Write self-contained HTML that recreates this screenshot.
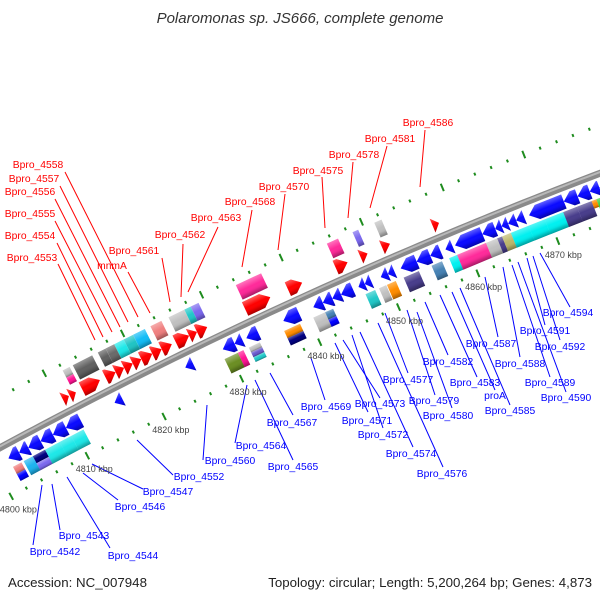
<!DOCTYPE html>
<html><head><meta charset="utf-8"><style>
html,body{margin:0;padding:0;background:#fff;}
svg{display:block;font-family:"Liberation Sans",sans-serif;}
</style></head><body>
<svg id="chart" width="600" height="600" viewBox="0 0 600 600" xmlns="http://www.w3.org/2000/svg">
<defs>
<linearGradient id="shade" x1="0" y1="0" x2="0" y2="1">
<stop offset="0" stop-color="#fff" stop-opacity="0.35"/>
<stop offset="0.45" stop-color="#fff" stop-opacity="0"/>
<stop offset="0.7" stop-color="#000" stop-opacity="0.05"/>
<stop offset="1" stop-color="#000" stop-opacity="0.35"/>
</linearGradient>
</defs>
<text x="300" y="23" text-anchor="middle" font-size="15" font-style="italic" fill="#333">Polaromonas sp. JS666, complete genome</text>
<text x="8" y="587" font-size="13.3" fill="#222">Accession: NC_007948</text>
<text x="592" y="587" text-anchor="end" font-size="13.3" fill="#222">Topology: circular; Length: 5,200,264 bp; Genes: 4,873</text>
<g id="lines"></g>
<g id="ticks"></g>
<g id="backbone"></g>
<g id="genes"></g>
<g id="labels"></g>
</svg>
<script>
// ---- data (kbp positions) ----
const tickKbp = [4800,4810,4820,4830,4840,4850,4860,4870];
const fwdInnerStart = [4810.5,4811.4,4813,4816,4817.3,4818.4,4819.5,4820.6,4822,4823.2,4825,4826.7,4827.7,4833.8,4839.2,4845.2,4848.3,4851,4857.3];
const fwdInnerEnd   = [4811.3,4812.2,4815.3,4817.3,4818.4,4819.5,4820.6,4822,4823.2,4824.5,4826.7,4827.7,4829,4837,4841,4846.7,4849.2,4852,4858.1];
const fwdOuterStart = [4812,4812,4813.3,4816.5,4817.5,4818.6,4819.8,4821,4823.2,4825.5,4827.5,4828.3,4834,4845.4,4848.6,4851.3];
const fwdOuterEnd   = [4812.9,4812.9,4815.8,4817.5,4818.6,4819.8,4821,4822.5,4824.6,4827.5,4828.3,4829.3,4837.2,4846.8,4849.3,4852.2];
const fwdOuterLane  = ['fo1','fo2','fo','fo','fo','fo','fo','fo','fo','fo','fo','fo','fo','fo','fo','fo'];
const fwdOuterColor = ['#c0c0c0','#ff1493','#606060','#606060','#6a6a6a','#1ee8e8','#20c4c4','#12bcf6','#f08080','#c0c0c0','#20c8c8','#7b68ee','#ff2a9a','#ff2a9a','#7b68ee','#c0c0c0'];
const revInnerStart = [4801.8,4803.2,4804.4,4806,4807.6,4809.3,4815.6,4824.7,4829.5,4831,4832.5,4837.2,4841,4842.2,4843.4,4844.5,4846.7,4847.5,4849.5,4850.4,4852,4854,4855.7,4857.6,4858.8,4862.2,4863.8,4864.6,4865.4,4866.4,4868,4872.3,4874,4875.5,4876.7,4878];
const revInnerEnd   = [4803.2,4804.4,4806,4807.6,4809.3,4811.2,4816.6,4825.7,4831,4832,4834,4839.2,4842.2,4843.4,4844.5,4846,4847.5,4848.3,4850.4,4851.2,4854,4855.7,4857,4858.5,4862.2,4863.8,4864.6,4865.4,4866.4,4867.4,4872.3,4874,4875.5,4876.7,4878,4880];
const revOuterStart = [4801.8,4801.8,4803.2,4804.4,4804.4,4806,4807.9,4809.4,4829.2,4830.9,4832.3,4832.3,4832.3,4836.8,4836.8,4840.5,4842,4842,4847.1,4848.8,4849.8,4851.9,4855.4,4857.6,4858.6,4862.2,4863.6,4864.2,4865.3,4867.5,4869.5,4871.8,4873.5,4875.3,4875.9,4877];
const revOuterEnd   = [4802.9,4802.9,4804.4,4806,4806,4807.9,4809.4,4811,4830.9,4831.6,4833.7,4833.7,4833.7,4838.8,4838.8,4842,4843,4843,4848.3,4849.7,4850.9,4853.8,4856.7,4858.6,4862.2,4863.6,4864.2,4865.3,4867.5,4869.5,4871.8,4873.5,4875.3,4875.9,4877,4880];
const revOuterLane  = ['ro1','ro2','ro','ro1','ro2','ro','ro','ro','ro','ro','roa','rob','roc','ro1','ro2','ro','ro1','ro2','ro','ro','ro','ro','ro','ro','ro','ro','ro','ro','ro','ro','ro','ro','ro','ro1','ro','ro'];
const revOuterColor = ['#f08080','#0000ff','#1eb4f0','#000080','#7b68ee','#1ee8e8','#1ee8e8','#1ee8e8','#6b8e23','#ff1493','#c0c0c0','#6a5acd','#20c8c8','#ff8c00','#000080','#c0c0c0','#4682b4','#0000ff','#20c8c8','#c0c0c0','#ff8c00','#483d8b','#4682b4','#00f0f0','#ff2a9a','#c0c0c0','#483d8b','#bdb76b','#00f0f0','#00f0f0','#00f0f0','#483d8b','#483d8b','#ff8c00','#32cd32','#483d8b'];

const redLabels = ['Bpro_4558','Bpro_4557','Bpro_4556','Bpro_4555','Bpro_4554','Bpro_4553','mnmA','Bpro_4561','Bpro_4562','Bpro_4563','Bpro_4568','Bpro_4570','Bpro_4575','Bpro_4578','Bpro_4581','Bpro_4586'];
const redLabelX = [38,34,30,30,30,32,112,134,180,216,250,284,318,354,390,428];
const redLabelY = [168,182,195,217,239,261,269,254,238,221,205,190,174,158,142,126];
const redLine = [[65,172,138,317],[60,186,128,322],[55,199,120,327],[55,221,112,332],[57,243,103,337],[58,264,95,340],[128,272,150,313],[162,258,170,302],[183,244,181,297],[218,227,188,292],[252,210,242,267],[285,194,278,250],[322,177,325,228],[353,162,348,218],[387,146,370,208],[425,130,420,187]];
const blueLabels = ['Bpro_4542','Bpro_4543','Bpro_4544','Bpro_4546','Bpro_4547','Bpro_4552','Bpro_4560','Bpro_4564','Bpro_4565','Bpro_4567','Bpro_4569','Bpro_4571','Bpro_4573','Bpro_4572','Bpro_4574','Bpro_4576','Bpro_4577','Bpro_4579','Bpro_4580','Bpro_4582','Bpro_4583','proA','Bpro_4585','Bpro_4587','Bpro_4588','Bpro_4589','Bpro_4590','Bpro_4591','Bpro_4592','Bpro_4594'];
const blueLabelX = [55,84,133,140,168,199,230,261,293,292,326,367,380,383,411,442,408,434,448,448,475,495,510,491,520,550,566,545,560,568];
const blueLabelY = [555,539,559,510,495,480,464,449,470,426,410,424,407,438,457,477,383,404,419,365,386,399,414,347,367,386,401,334,350,316];
const blueLine = [[42,485,33,545],[52,484,60,530],[67,477,110,548],[83,473,118,500],[92,464,143,489],[137,440,173,475],[207,405,203,460],[247,385,235,443],[255,380,293,460],[270,373,293,415],[311,358,325,400],[335,343,368,412],[343,340,380,398],[352,335,383,428],[360,332,413,447],[378,323,443,467],[385,313,408,373],[407,310,435,395],[417,312,452,408],[425,302,448,355],[440,295,477,377],[452,292,495,390],[460,288,510,405],[485,277,498,337],[503,267,520,357],[512,265,550,377],[518,262,566,392],[527,258,545,325],[533,256,560,340],[540,253,570,307]];

// ---- geometry ----
const NS='http://www.w3.org/2000/svg';
const CX=2354.6, CY=4801.9, R=4950, K0=4810, PSI0=-27.55, DPK=0.1008;
const PXK=DPK*Math.PI/180*R;
const LANE={fi:[-21,-6],fo:[-39,-23],fo1:[-39,-31],fo2:[-31,-23],ri:[6,21],ro:[23,39],ro1:[23,31],ro2:[31,39],roa:[23,28.3],rob:[28.3,33.7],roc:[33.7,39]};
function psi(k){return PSI0+(k-K0)*DPK;}
function pt(k,v){const a=psi(k)*Math.PI/180;const r=R-v;return [CX+r*Math.sin(a),CY-r*Math.cos(a)];}
function mk(tag){return document.createElementNS(NS,tag);}

const gGenes=document.getElementById('genes');
function shapePts(w,v1,v2,kind){
  const h=v2-v1, m=(v1+v2)/2, hd=Math.min(h*0.6,w);
  if(kind==='fwd') return [[0,v1],[w-hd,v1],[w,m],[w-hd,v2],[0,v2]];
  if(kind==='rev') return [[w,v1],[hd,v1],[0,m],[hd,v2],[w,v2]];
  return [[0,v1],[w,v1],[w,v2],[0,v2]];
}
function drawGene(k1,k2,lane,color,kind,name){
  const g=mk('g');
  
  
  g.setAttribute('transform','rotate('+psi(k1).toFixed(4)+' '+CX+' '+CY+') translate('+CX+' '+(CY-R)+')');
  const [v1,v2]=LANE[lane];
  const p=shapePts((k2-k1)*PXK,v1,v2,kind).map(q=>q[0].toFixed(2)+','+q[1].toFixed(2)).join(' ');
  const a=mk('polygon');a.setAttribute('points',p);a.setAttribute('fill',color);
  const b=mk('polygon');b.setAttribute('points',p);b.setAttribute('fill','url(#shade)');
  g.appendChild(a);g.appendChild(b);gGenes.appendChild(g);
}

// backbone
(function(){
  const gb=document.getElementById('backbone');
  let d='';
  for(let k=4794;k<=4886;k+=1){const q=pt(k,0);d+=(k===4794?'M':'L')+q[0].toFixed(2)+','+q[1].toFixed(2);}
  const p1=mk('path');
  
  
  p1.setAttribute('d',d);p1.setAttribute('fill','none');p1.setAttribute('stroke','#8a8a8a');p1.setAttribute('stroke-width','7');
  gb.appendChild(p1);
  let d2='';
  for(let k=4794;k<=4886;k+=1){const q=pt(k,-1.2);d2+=(k===4794?'M':'L')+q[0].toFixed(2)+','+q[1].toFixed(2);}
  const p2=mk('path');
  
  
  p2.setAttribute('d',d2);p2.setAttribute('fill','none');p2.setAttribute('stroke','#b8b8b8');p2.setAttribute('stroke-width','2');
  gb.appendChild(p2);
})();

// ticks
(function(){
  const gt=document.getElementById('ticks');
  for(let k=4796;k<=4884;k+=2){
    const major=(k%10===0);
    [-45,48].forEach(function(v){
      const len=major?8:3;
      const a=pt(k,v-len/2), b=pt(k,v+len/2);
      const l=mk('line');
      
      
      l.setAttribute('x1',a[0]);l.setAttribute('y1',a[1]);l.setAttribute('x2',b[0]);l.setAttribute('y2',b[1]);
      l.setAttribute('stroke','#1e8c1e');l.setAttribute('stroke-width','2');
      gt.appendChild(l);
    });
  }
  tickKbp.forEach(function(k){
    const q=pt(k,63);
    const t=mk('text');
    
    
    t.setAttribute('x',q[0]);t.setAttribute('y',q[1]+3);
    t.setAttribute('text-anchor','middle');t.setAttribute('font-size','9');t.setAttribute('fill','#444');
    t.textContent=k+' kbp';gt.appendChild(t);
  });
})();

// genes
fwdInnerStart.forEach(function(s,i){drawGene(s,fwdInnerEnd[i],'fi','#ff0000','fwd','forward-gene-arrow');});
fwdOuterStart.forEach(function(s,i){drawGene(s,fwdOuterEnd[i],fwdOuterLane[i],fwdOuterColor[i],'box','forward-gene-category');});
revInnerStart.forEach(function(s,i){drawGene(s,revInnerEnd[i],'ri','#0a0aff','rev','reverse-gene-arrow');});
revOuterStart.forEach(function(s,i){drawGene(s,revOuterEnd[i],revOuterLane[i],revOuterColor[i],'box','reverse-gene-category');});

// labels + leader lines
(function(){
  const gl=document.getElementById('lines'), gx=document.getElementById('labels');
  function add(txt,x,y,ln,col){
    const l=mk('line');
    
    
    l.setAttribute('x1',ln[0]);l.setAttribute('y1',ln[1]);l.setAttribute('x2',ln[2]);l.setAttribute('y2',ln[3]);
    l.setAttribute('stroke',col);l.setAttribute('stroke-width','1');
    gl.appendChild(l);
    const t=mk('text');
    
    
    t.setAttribute('x',x);t.setAttribute('y',y);t.setAttribute('text-anchor','middle');
    t.setAttribute('font-size','10.3');t.setAttribute('fill',col);
    t.textContent=txt;gx.appendChild(t);
  }
  redLabels.forEach(function(s,i){add(s,redLabelX[i],redLabelY[i],redLine[i],'#ff0000');});
  blueLabels.forEach(function(s,i){add(s,blueLabelX[i],blueLabelY[i],blueLine[i],'#0000ff');});
})();
</script>
</body></html>
